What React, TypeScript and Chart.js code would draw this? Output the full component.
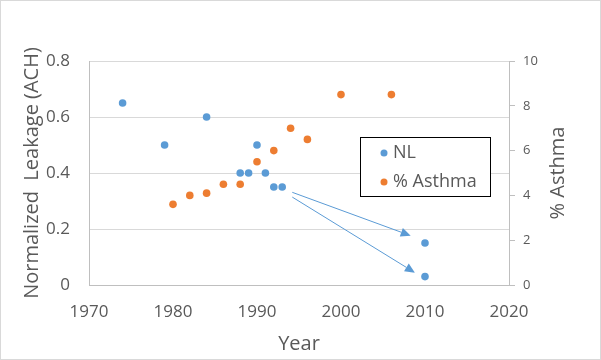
import React, { useEffect, useRef } from "react";
import { Chart, registerables } from "chart.js";

Chart.register(...registerables);

const nlYears = [1974, 1979, 1984, 1988, 1989, 1990, 1991, 1992, 1993, 2010, 2010];
const nlValues = [0.65, 0.5, 0.6, 0.4, 0.4, 0.5, 0.4, 0.35, 0.35, 0.15, 0.03];
const asthmaYears = [1980, 1982, 1984, 1986, 1988, 1990, 1992, 1994, 1996, 2000, 2006];
const asthmaValues = [3.6, 4.0, 4.1, 4.5, 4.5, 5.5, 6.0, 7.0, 6.5, 8.5, 8.5];
const seriesNames = ["NL", "% Asthma"];
// annotation arrows in data coordinates: [fromYear, fromNL, toYear, toNL]
const arrowFrom = [[1994.2, 0.331], [1994.2, 0.314]];
const arrowTo = [[2008.3, 0.176], [2008.8, 0.044]];

const BLUE = "#5B9BD5";
const ORANGE = "#ED7D31";
const TEXT = "#595959";
const FONT = "'Open Sans', 'Noto Sans', sans-serif";

const framePlugin = {
  id: "frame",
  afterDraw(chart: any) {
    const ctx = chart.ctx;
    ctx.save();
    ctx.strokeStyle = "#d9d9d9";
    ctx.lineWidth = 1;
    ctx.strokeRect(0.5, 0.5, chart.width - 1, chart.height - 1);
    ctx.restore();
  },
};

const arrowPlugin = {
  id: "arrows",
  afterDatasetsDraw(chart: any) {
    const { ctx, scales } = chart;
    const x = scales.x;
    const y = scales.y;
    ctx.save();
    ctx.strokeStyle = BLUE;
    ctx.fillStyle = BLUE;
    ctx.lineWidth = 1;
    arrowFrom.forEach((f, i) => {
      const t = arrowTo[i];
      const x1 = x.getPixelForValue(f[0]);
      const y1 = y.getPixelForValue(f[1]);
      const x2 = x.getPixelForValue(t[0]);
      const y2 = y.getPixelForValue(t[1]);
      const ang = Math.atan2(y2 - y1, x2 - x1);
      const len = 10;
      const half = 4.5;
      const bx = x2 - len * Math.cos(ang);
      const by = y2 - len * Math.sin(ang);
      ctx.beginPath();
      ctx.moveTo(x1, y1);
      ctx.lineTo(bx, by);
      ctx.stroke();
      ctx.beginPath();
      ctx.moveTo(x2, y2);
      ctx.lineTo(bx + half * Math.sin(ang), by - half * Math.cos(ang));
      ctx.lineTo(bx - half * Math.sin(ang), by + half * Math.cos(ang));
      ctx.closePath();
      ctx.fill();
    });
    ctx.restore();
  },
};

const legendPlugin = {
  id: "boxLegend",
  afterDraw(chart: any) {
    const { ctx, chartArea } = chart;
    const left = chartArea.left + 271;
    const top = chartArea.top + 76;
    const w = 130;
    const h = 59;
    ctx.save();
    ctx.fillStyle = "#ffffff";
    ctx.fillRect(left, top, w, h);
    ctx.strokeStyle = "#000000";
    ctx.lineWidth = 1;
    ctx.strokeRect(Math.round(left) + 0.5, Math.round(top) + 0.5, w, h);
    ctx.font = `18px ${FONT}`;
    ctx.textBaseline = "middle";
    ctx.textAlign = "left";
    chart.data.datasets.forEach((ds: any, i: number) => {
      const cy = top + 16 + i * 29;
      ctx.fillStyle = ds.backgroundColor;
      ctx.beginPath();
      ctx.arc(left + 24, cy, 3.5, 0, Math.PI * 2);
      ctx.fill();
      ctx.fillStyle = TEXT;
      ctx.fillText(ds.label, left + 33, cy);
    });
    ctx.restore();
  },
};

const rightTitlePlugin = {
  id: "rightTitle",
  afterDraw(chart: any) {
    const { ctx, chartArea } = chart;
    ctx.save();
    ctx.font = `20px ${FONT}`;
    ctx.fillStyle = TEXT;
    ctx.textAlign = "center";
    ctx.textBaseline = "middle";
    ctx.translate(558, (chartArea.top + chartArea.bottom) / 2);
    ctx.rotate(-Math.PI / 2);
    ctx.fillText(seriesNames[1], 0, 0);
    ctx.restore();
  },
};

export default function App() {
  const ref = useRef<HTMLCanvasElement>(null);
  useEffect(() => {
    if (!ref.current) return;
    const chart = new Chart(ref.current, {
      type: "scatter",
      data: {
        datasets: [
          {
            label: seriesNames[0],
            data: nlYears.map((yr, i) => ({ x: yr, y: nlValues[i] })),
            backgroundColor: BLUE,
            borderColor: BLUE,
            pointRadius: 3.8,
            borderWidth: 0,
            yAxisID: "y",
          },
          {
            label: seriesNames[1],
            data: asthmaYears.map((yr, i) => ({ x: yr, y: asthmaValues[i] })),
            backgroundColor: ORANGE,
            borderColor: ORANGE,
            pointRadius: 3.8,
            borderWidth: 0,
            yAxisID: "y2",
          },
        ],
      },
      options: {
        responsive: false,
        animation: false,
        events: [],
        layout: { padding: { top: 61, left: 0, right: 0, bottom: 0 } },
        plugins: { legend: { display: false }, tooltip: { enabled: false } },
        scales: {
          x: {
            type: "linear",
            position: "bottom",
            min: 1970,
            max: 2020,
            ticks: { stepSize: 10, color: TEXT, font: { family: FONT, size: 17 }, padding: 17, callback: (v: any) => String(v) },
            grid: { display: false, drawTicks: false },
            border: { display: true, color: "#bfbfbf" },
            title: { display: true, text: "Year", color: TEXT, font: { family: FONT, size: 20 }, padding: { top: 0, bottom: 4 } },
            afterFit: (s: any) => { s.height = 75; },
          },
          y: {
            position: "left",
            min: 0,
            max: 0.8,
            ticks: { stepSize: 0.2, color: TEXT, font: { family: FONT, size: 17 }, padding: 19, callback: (v: any) => (v === 0 ? "0" : Number(v).toFixed(1)) },
            grid: { color: "#d9d9d9", drawTicks: false },
            border: { display: true, color: "#bfbfbf" },
            title: { display: true, text: "Normalized  Leakage (ACH)", color: TEXT, font: { family: FONT, size: 20 }, padding: { top: 20, bottom: 0 } },
            afterFit: (s: any) => { s.width = 89; },
          },
          y2: {
            position: "right",
            min: 0,
            max: 10,
            ticks: { stepSize: 2, color: TEXT, font: { family: FONT, size: 13 }, padding: 8 },
            grid: { drawOnChartArea: false, drawTicks: true, tickLength: 6, color: "#bfbfbf" },
            border: { display: true, color: "#bfbfbf" },
            afterFit: (s: any) => { s.width = 92; },
          },
        },
      },
      plugins: [arrowPlugin, legendPlugin, rightTitlePlugin, framePlugin],
    } as any);
    return () => chart.destroy();
  }, []);
  return (
    <div style={{ position: "fixed", left: 0, top: 0, width: 601, height: 360, background: "#fff" }}>
      <canvas ref={ref} width={601} height={360} />
    </div>
  );
}
